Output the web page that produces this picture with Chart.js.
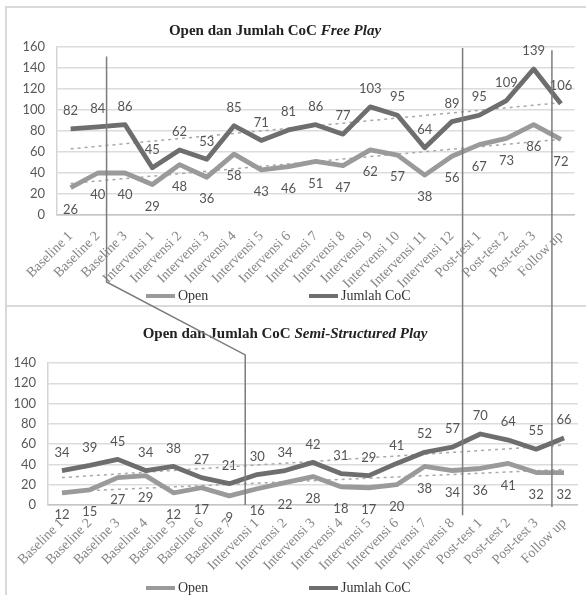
<!DOCTYPE html>
<html><head><meta charset="utf-8">
<script src="https://cdn.jsdelivr.net/npm/chart.js@4.4.1/dist/chart.umd.min.js"></script>
<style>
html,body{margin:0;padding:0;background:#fff;width:586px;height:595px;overflow:hidden;position:relative;}
.box{position:absolute;left:5px;width:600px;border:2px solid #d9d9d9;box-sizing:border-box;}
#box1{top:6px;height:301px;}
#box2{top:305px;height:320px;}
canvas{position:absolute;left:0;}
#c1{top:0;}
#c2{top:305px;}
#ov{top:0;pointer-events:none;}
.title{position:absolute;font-family:"Liberation Serif",serif;font-weight:bold;font-size:15px;color:#222;white-space:nowrap;transform:translateX(-50%);line-height:18px;}
.legend{position:absolute;font-family:"Liberation Serif",serif;font-size:14px;color:#333;white-space:nowrap;display:flex;align-items:center;line-height:16px;}
.sw{display:inline-block;width:29px;height:4px;margin-right:3px;}
</style></head>
<body>
<div class="box" id="box1"></div><div class="box" id="box2"></div>
<canvas id="c1" width="586" height="305"></canvas>
<canvas id="c2" width="586" height="290"></canvas>
<div class="title" style="left:275px;top:21px">Open dan Jumlah CoC <i>Free Play</i></div>
<div class="title" style="left:285px;top:324px">Open dan Jumlah CoC <i>Semi-Structured Play</i></div>
<div class="legend" style="left:146px;top:288px"><span class="sw" style="background:#9a9a9a"></span>Open</div>
<div class="legend" style="left:309px;top:288px"><span class="sw" style="background:#6e6e6e"></span>Jumlah CoC</div>
<div class="legend" style="left:146px;top:580px"><span class="sw" style="background:#9a9a9a"></span>Open</div>
<div class="legend" style="left:309px;top:580px"><span class="sw" style="background:#6e6e6e"></span>Jumlah CoC</div>
<canvas id="ov" width="586" height="595"></canvas>
<script>
// ---------- DATA ----------
const freeLabels = ['Baseline 1','Baseline 2','Baseline 3','Intervensi 1','Intervensi 2','Intervensi 3','Intervensi 4','Intervensi 5','Intervensi 6','Intervensi 7','Intervensi 8','Intervensi 9','Intervensi 10','Intervensi 11','Intervensi 12','Post-test 1','Post-test 2','Post-test 3','Follow up'];
const freeOpen = [26,40,40,29,48,36,58,43,46,51,47,62,57,38,56,67,73,86,72];
const freeCoc = [82,84,86,45,62,53,85,71,81,86,77,103,95,64,89,95,109,139,106];
const freeOpenTrend = [30,72];   // trendline start / end values
const freeCocTrend = [63,107];
const freeTicks = [0,20,40,60,80,100,120,140,160];

const semiLabels = ['Baseline 1','Baseline 2','Baseline 3','Baseline 4','Baseline 5','Baseline 6','Baseline 7','Intervensi 1','Intervensi 2','Intervensi 3','Intervensi 4','Intervensi 5','Intervensi 6','Intervensi 7','Intervensi 8','Post-test 1','Post-test 2','Post-test 3','Follow up'];
const semiOpen = [12,15,27,29,12,17,9,16,22,28,18,17,20,38,34,36,41,32,32];
const semiCoc = [34,39,45,34,38,27,21,30,34,42,31,29,41,52,57,70,64,55,66];
const semiOpenTrend = [13,35];
const semiCocTrend = [27,59];
const semiTicks = [0,20,40,60,80,100,120,140];

// ---------- helpers ----------
const COL_OPEN = '#9a9a9a', COL_COC = '#6e6e6e', COL_TREND = '#a8a8a8';
function trendData(n, ends){ return Array.from({length:n},(_,i)=> i===0 ? ends[0] : (i===n-1 ? ends[1] : null)); }

const valueLabels = {
  id:'valueLabels',
  afterDatasetsDraw(chart, args, opts){
    const ctx = chart.ctx;
    ctx.save();
    ctx.font = '13px Lato';
    ctx.fillStyle = '#555';
    ctx.textAlign = 'center';
    ctx.textBaseline = 'middle';
    chart.data.datasets.forEach((ds, di) => {
      if (!ds.labelPos) return;
      const meta = chart.getDatasetMeta(di);
      meta.data.forEach((pt, i) => {
        const off = ds.labelPos === 'above' ? -opts.above : opts.below;
        ctx.fillText(String(ds.data[i]), pt.x, pt.y + off);
      });
    });
    ctx.restore();
  }
};

function makeChart(id, labels, open, coc, openTrend, cocTrend, ticks, yWidth, padTop, padRight, xPad){
  const n = labels.length;
  return new Chart(document.getElementById(id), {
    type:'line',
    data:{
      labels: labels,
      datasets:[
        {label:'Open', data:open, borderColor:COL_OPEN, borderWidth:4.8, pointRadius:0, tension:0, borderJoinStyle:'round', labelPos:'below', order:0},
        {label:'Jumlah CoC', data:coc, borderColor:COL_COC, borderWidth:4.8, pointRadius:0, tension:0, borderJoinStyle:'round', labelPos:'above', order:0},
        {label:'trend Open', data:trendData(n, openTrend), borderColor:COL_TREND, borderWidth:1.5, borderDash:[3,4], pointRadius:0, spanGaps:true, order:2},
        {label:'trend CoC', data:trendData(n, cocTrend), borderColor:COL_TREND, borderWidth:1.5, borderDash:[3,4], pointRadius:0, spanGaps:true, order:2}
      ]
    },
    options:{
      responsive:false, animation:false, events:[],
      layout:{padding:{top:padTop, right:padRight, left:0, bottom:0}},
      plugins:{legend:{display:false}, tooltip:{enabled:false}, title:{display:false}, valueLabels:{above:18, below:22}},
      scales:{
        x:{offset:true, grid:{display:false, drawTicks:false}, border:{color:'#c4c4c4', width:1.5},
           ticks:{autoSkip:false, maxRotation:45, minRotation:45, font:{family:'Liberation Serif', size:14}, color:'#858585', padding:xPad},
           afterFit(s){ s.height = 90; }},
        y:{min:ticks[0], max:ticks[ticks.length-1], grid:{color:'#dcdcdc', lineWidth:1.5, drawTicks:false}, border:{display:true, color:'#d4d4d4', width:1.5},
           afterBuildTicks(s){ s.ticks = ticks.map(v=>({value:v})); },
           ticks:{font:{family:'Lato', size:13}, color:'#595959', padding:12},
           afterFit(s){ s.width = yWidth; }}
      }
    },
    plugins:[valueLabels]
  });
}

const ch1 = makeChart('c1', freeLabels, freeOpen, freeCoc, freeOpenTrend, freeCocTrend, freeTicks, 57, 47, 8, 13);
const ch2 = makeChart('c2', semiLabels, semiOpen, semiCoc, semiOpenTrend, semiCocTrend, semiTicks, 48, 58, 3, 10);

// ---------- phase lines (hand-drawn in the original figure) ----------
function drawPhaseLines(){
  const ctx = document.getElementById('ov').getContext('2d');
  const x1 = ch1.scales.x, y1 = ch1.scales.y, x2 = ch2.scales.x, y2 = ch2.scales.y;
  const off2 = 305;
  ctx.strokeStyle = '#7c7c7c';
  ctx.lineWidth = 1.5;
  ctx.lineJoin = 'miter';
  // baseline -> intervention line (bent)
  const ax = x1.getPixelForValue(1.32), bx = x2.getPixelForValue(6.57);
  ctx.beginPath();
  ctx.moveTo(ax, y1.getPixelForValue(151));
  ctx.lineTo(ax, y1.bottom + 67);
  ctx.lineTo(bx, off2 + y2.getPixelForValue(148));
  ctx.lineTo(bx, off2 + y2.getPixelForValue(0));
  ctx.stroke();
  // intervention -> post-test
  const cx = x1.getPixelForValue(14.39);
  ctx.beginPath();
  ctx.moveTo(cx, y1.getPixelForValue(159));
  ctx.lineTo(cx, off2 + y2.getPixelForValue(-10));
  ctx.stroke();
  // post-test -> follow up
  const dx = x1.getPixelForValue(17.67);
  ctx.beginPath();
  ctx.moveTo(dx, y1.getPixelForValue(157));
  ctx.lineTo(dx, off2 + y2.getPixelForValue(-2));
  ctx.stroke();
}
drawPhaseLines();
</script>
</body></html>
